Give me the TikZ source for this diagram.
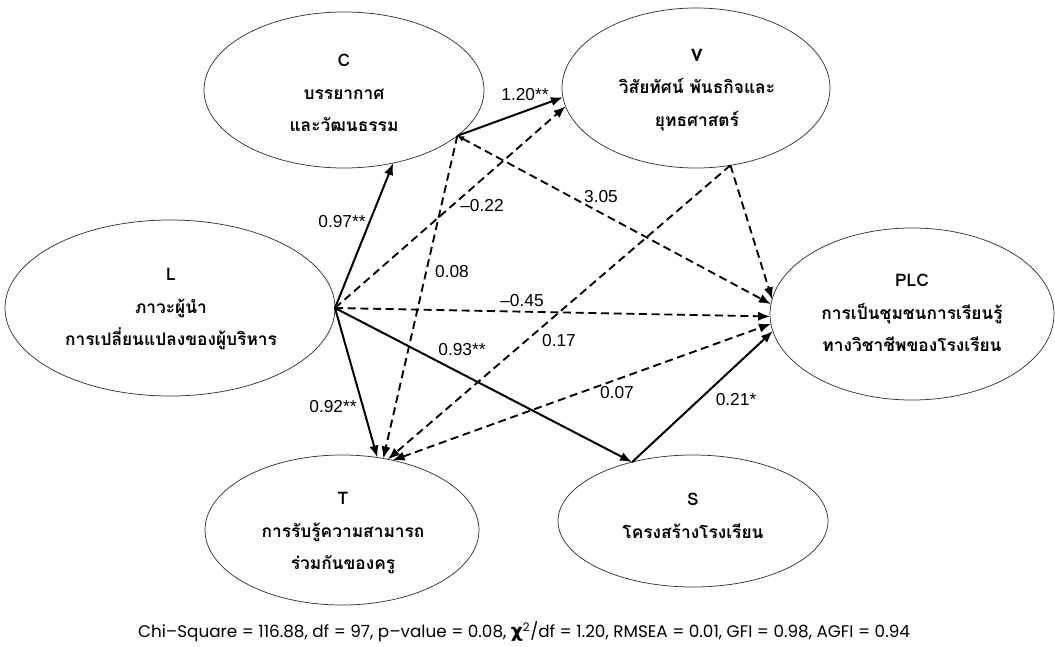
\documentclass[tikz,border=0pt]{standalone}
\usepackage{fontspec}
\usetikzlibrary{shapes.geometric,arrows.meta}
\setmainfont{Liberation Sans}
\newfontfamily\thai[Script=Thai]{Loma}
\newfontfamily\statfont{Poppins}
\newfontfamily\symfont{DejaVu Sans}

\begin{document}
\begin{tikzpicture}[x=0.75pt,y=-0.75pt,
  construct/.style={draw=black!80, line width=0.55pt, ellipse, inner sep=0pt, outer sep=0pt},
  ctext/.style={font=\thai\bfseries\fontsize{13}{24.5}\selectfont, align=center},
  sig/.style={line width=1.5pt, -{Latex[length=9pt,width=7pt]}},
  nsig/.style={line width=1.4pt, dash pattern=on 6pt off 3.5pt, -{Latex[length=9pt,width=7pt]}},
  both/.style={line width=1.4pt, dash pattern=on 6pt off 3.5pt, {Latex[length=9pt,width=7pt]}-{Latex[length=9pt,width=7pt]}},
  coef/.style={font=\fontsize{13}{15}\selectfont, inner sep=1pt}]
\useasboundingbox (0,0) rectangle (1055,646);

% latent constructs
\node[construct, minimum width=210pt, minimum height=117pt] (C) at (344,90) {};
\node[construct, minimum width=201pt, minimum height=120pt] (V) at (696,88) {};
\node[construct, minimum width=247.5pt, minimum height=132pt] (L) at (170,308) {};
\node[construct, minimum width=213pt, minimum height=129pt] (PLC) at (912,314) {};
\node[construct, minimum width=205.5pt, minimum height=112.5pt] (T) at (342,530) {};
\node[construct, minimum width=202.5pt, minimum height=99pt] (S) at (693,521) {};

% construct captions
\node[ctext] (Ct) at (344,93) {C\\บรรยากาศ\\และวัฒนธรรม};
\node[ctext] (Vt) at (697,90) {V\\วิสัยทัศน์ พันธกิจและ\\ยุทธศาสตร์};
\node[ctext] (Lt) at (171,309) {L\\ภาวะผู้นำ\\การเปลี่ยนแปลงของผู้บริหาร};
\node[ctext] (PLCt) at (912,313) {PLC\\การเป็นชุมชนการเรียนรู้\\ทางวิชาชีพของโรงเรียน};
\node[ctext] (Tt) at (343,533) {T\\การรับรู้ความสามารถ\\ร่วมกันของครู};
\node[ctext] (St) at (693,516) {S\\โครงสร้างโรงเรียน};

% significant paths
\draw[sig] (L.east) -- (C.-56);
\draw[sig] (L.east) -- (T.64);
\draw[sig] (L.east) -- (S.136);
\draw[sig] (C.-22) -- (V.184);
\draw[sig] (S.136) -- (PLC.187);

% non-significant paths
\draw[nsig] (L.east) -- (V.188);
\draw[nsig] (L.east) -- (PLC.181);
\draw[nsig] (C.-22) -- (T.60);
\draw[nsig, {Latex[length=5pt,width=4.5pt]}-{Latex[length=9pt,width=7pt]}] (C.-22) -- (PLC.176);
\draw[nsig] (V.-66) -- (PLC.174);
\draw[nsig] (V.-66) -- (T.57);
\draw[both] (T.54) -- (PLC.184);

% path coefficients
\node[coef] (k1) at (342,222) {0.97**};
\node[coef] (k2) at (525,95) {1.20**};
\node[coef] (k3) at (482,206) {–0.22};
\node[coef] (k4) at (601,197) {3.05};
\node[coef] (k5) at (452,272) {0.08};
\node[coef] (k6) at (522,301) {–0.45};
\node[coef] (k7) at (559,341) {0.17};
\node[coef] (k8) at (462,350) {0.93**};
\node[coef] (k9) at (333,407) {0.92**};
\node[coef] (k10) at (617,393) {0.07};
\node[coef] (k11) at (736,400) {0.21*};

% fit indices
\node[font=\statfont\fontsize{12.6}{14}\selectfont, inner sep=0pt] (fit) at (524,632)
  {Chi–Square = 116.88, df = 97, p–value = 0.08, {\symfont\bfseries\fontsize{14}{14}\selectfont χ}\textsuperscript{2}/df = 1.20, RMSEA = 0.01, GFI = 0.98, AGFI = 0.94};
\end{tikzpicture}
\end{document}
